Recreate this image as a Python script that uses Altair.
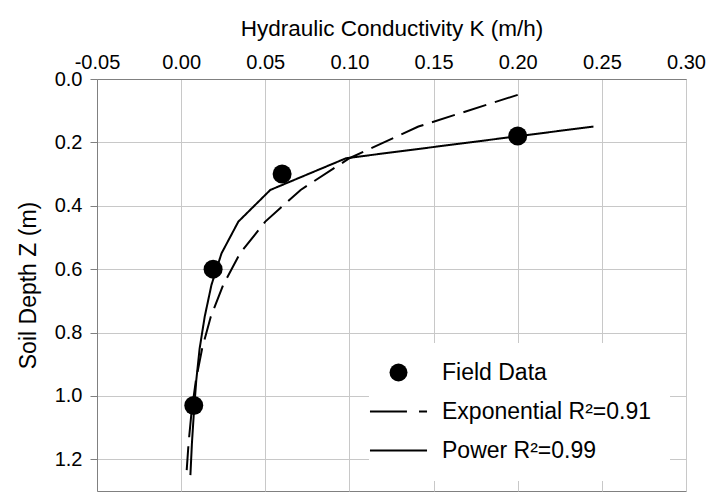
import altair as alt
import pandas as pd

# ---- data ----
field_K = [0.200, 0.060, 0.019, 0.0075]
field_z = [0.18, 0.30, 0.60, 1.03]

exp_z = [0.05, 0.15, 0.25, 0.35, 0.45, 0.55, 0.65, 0.75, 0.85, 0.95, 1.05, 1.15, 1.25]
exp_K = [0.200, 0.141, 0.100, 0.071, 0.050, 0.035, 0.025, 0.0176, 0.0125, 0.0088, 0.0062, 0.0044, 0.0031]

pow_z = [0.15, 0.25, 0.35, 0.45, 0.55, 0.65, 0.75, 0.85, 0.95, 1.05, 1.15, 1.25]
pow_K = [0.245, 0.098, 0.053, 0.034, 0.024, 0.018, 0.014, 0.011, 0.0090, 0.0076, 0.0064, 0.0055]

series_names = ["Field Data", "Exponential R\u00b2=0.91", "Power R\u00b2=0.99"]
x_ticks = [-0.05, 0.00, 0.05, 0.10, 0.15, 0.20, 0.25, 0.30]
y_ticks = [0.0, 0.2, 0.4, 0.6, 0.8, 1.0, 1.2]

FONT = "Liberation Sans"

field_df = pd.DataFrame({"K": field_K, "z": field_z, "series": series_names[0]})
lines_df = pd.concat([
    pd.DataFrame({"K": exp_K, "z": exp_z, "series": series_names[1]}),
    pd.DataFrame({"K": pow_K, "z": pow_z, "series": series_names[2]}),
], ignore_index=True)

x_enc = alt.X(
    "K:Q",
    scale=alt.Scale(domain=[-0.05, 0.30], nice=False, zero=False),
    axis=alt.Axis(
        orient="top", values=x_ticks,
        labelExpr="datum.value < 0 ? '-' + format(-datum.value, '.2f') : format(datum.value, '.2f')",
        title="Hydraulic Conductivity K (m/h)",
        ticks=False, labelPadding=7, titlePadding=12, labelFlush=False,
        titleFontSize=22.5,
    ),
)
y_enc = alt.Y(
    "z:Q",
    scale=alt.Scale(domain=[0, 1.3], reverse=True, nice=False, zero=False),
    axis=alt.Axis(
        values=y_ticks, format=".1f", title="Soil Depth Z (m)",
        tickSize=7, labelPadding=8, titlePadding=14, labelFlush=False,
        titleFontSize=23,
    ),
)

lines = alt.Chart(lines_df).mark_line(color="black", strokeWidth=2).encode(
    x=x_enc,
    y=y_enc,
    strokeDash=alt.StrokeDash(
        "series:N",
        scale=alt.Scale(domain=series_names[1:], range=[[24, 9], [1, 0]]),
        legend=None,
    ),
    order=alt.Order("z:Q"),
)

# legend glyphs: filled circle, dashed bar, solid bar (thin filled rectangles)
legend_shapes = [
    "circle",
    "M-3.17,-0.12H0.94V0.12H-3.17ZM2.28,-0.12H3.17V0.12H2.28Z",
    "M-3.17,-0.12H3.17V0.12H-3.17Z",
]

points = alt.Chart(field_df).mark_point(
    filled=True, color="black", size=360, opacity=1,
).encode(
    x=x_enc,
    y=y_enc,
    shape=alt.Shape(
        "series:N",
        scale=alt.Scale(domain=series_names, range=legend_shapes),
        legend=alt.Legend(
            title=None, orient="none", legendX=272, legendY=264,
            fillColor="white", padding=18, direction="vertical",
            labelFontSize=23, labelFont=FONT, labelColor="black", labelLimit=0,
            symbolSize=324, labelOffset=32, rowPadding=15,
            symbolFillColor="black", symbolOpacity=1, symbolStrokeWidth=0,
        ),
    ),
)

chart = alt.layer(lines, points).properties(
    width=589,
    height=412,
    autosize=alt.AutoSizeParams(type="none"),
    padding={"left": 97, "top": 79, "right": 22, "bottom": 4},
    background="white",
).configure_view(
    stroke="#808080", strokeWidth=1
).configure_axis(
    grid=True, gridColor="#c8c8c8", gridWidth=1,
    domainColor="#808080", domainWidth=1, tickColor="#808080",
    labelFont=FONT, titleFont=FONT, labelFontSize=20,
    labelColor="black", titleColor="black", titleFontWeight="normal",
)

chart.save("out.html", embed_options={"renderer": "svg", "actions": False})
